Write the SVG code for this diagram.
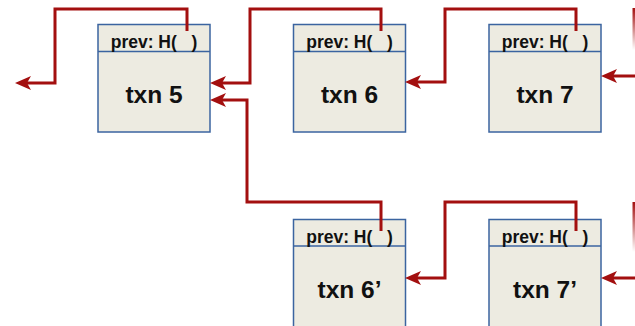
<svg xmlns="http://www.w3.org/2000/svg" width="635" height="326" viewBox="0 0 635 326">
<style>
.box{fill:#EDEBE1;stroke:#3B64A0;stroke-width:1.5}
.div{stroke:#3B64A0;stroke-width:1.5}
.hdr{font-family:"Liberation Sans",Arial,sans-serif;font-weight:bold;font-size:17.5px;fill:#111;text-anchor:middle}
.lbl{font-family:"Liberation Sans",Arial,sans-serif;font-weight:bold;font-size:24.5px;fill:#111;text-anchor:middle}
.ptr{fill:none;stroke:#A30F0F;stroke-width:3;stroke-linejoin:miter}
.arr{marker-end:url(#ah)}
</style>
<defs>
<marker id="ah" markerUnits="userSpaceOnUse" viewBox="0 -7 16 14" refX="11" refY="0" markerWidth="16" markerHeight="14" orient="auto">
<path d="M0,-7 L16,0 L0,7 L4,0 Z" fill="#A30F0F"/>
</marker>
<linearGradient id="fade" x1="0" y1="0" x2="0" y2="1">
<stop offset="0" stop-color="#A30F0F"/>
<stop offset="1" stop-color="#A30F0F" stop-opacity="0"/>
</linearGradient>
</defs>
<g id="txn5">
<rect class="box" x="98" y="24.5" width="112" height="107.5"/>
<line class="div" x1="98" y1="51.5" x2="210" y2="51.5"/>
<text class="hdr" x="154" y="48">prev: H(&#160;&#160;&#160;)</text>
<text class="lbl" x="154" y="103">txn 5</text>
</g>
<g id="txn6">
<rect class="box" x="293.5" y="24.5" width="112" height="107.5"/>
<line class="div" x1="293.5" y1="51.5" x2="405.5" y2="51.5"/>
<text class="hdr" x="349.5" y="48">prev: H(&#160;&#160;&#160;)</text>
<text class="lbl" x="349.5" y="103">txn 6</text>
</g>
<g id="txn7">
<rect class="box" x="489" y="24.5" width="112" height="107.5"/>
<line class="div" x1="489" y1="51.5" x2="601" y2="51.5"/>
<text class="hdr" x="545" y="48">prev: H(&#160;&#160;&#160;)</text>
<text class="lbl" x="545" y="103">txn 7</text>
</g>
<g id="txn6p">
<rect class="box" x="293.5" y="219.5" width="112" height="112"/>
<line class="div" x1="293.5" y1="246" x2="405.5" y2="246"/>
<text class="hdr" x="349.5" y="243">prev: H(&#160;&#160;&#160;)</text>
<text class="lbl" x="349.5" y="298">txn 6’</text>
</g>
<g id="txn7p">
<rect class="box" x="489" y="219.5" width="112" height="112"/>
<line class="div" x1="489" y1="246" x2="601" y2="246"/>
<text class="hdr" x="545" y="243">prev: H(&#160;&#160;&#160;)</text>
<text class="lbl" x="545" y="298">txn 7’</text>
</g>
<g id="connectors">
<path class="ptr arr" d="M187,31 V9 H55 V83 H20"/>
<path class="ptr arr" d="M381,31 V9 H250 V83 H215"/>
<path class="ptr arr" d="M381,231 V202 H247 V100 H215"/>
<path class="ptr arr" d="M576,31 V9 H445 V82 H410"/>
<path class="ptr arr" d="M576,231 V202 H445 V278 H410"/>
<path class="ptr arr" d="M640,76 H606"/>
<path class="ptr arr" d="M640,278 H606"/>
<rect x="632.5" y="8" width="3" height="42" fill="url(#fade)"/>
<rect x="632.5" y="202" width="3" height="50" fill="url(#fade)"/>
</g>
</svg>
